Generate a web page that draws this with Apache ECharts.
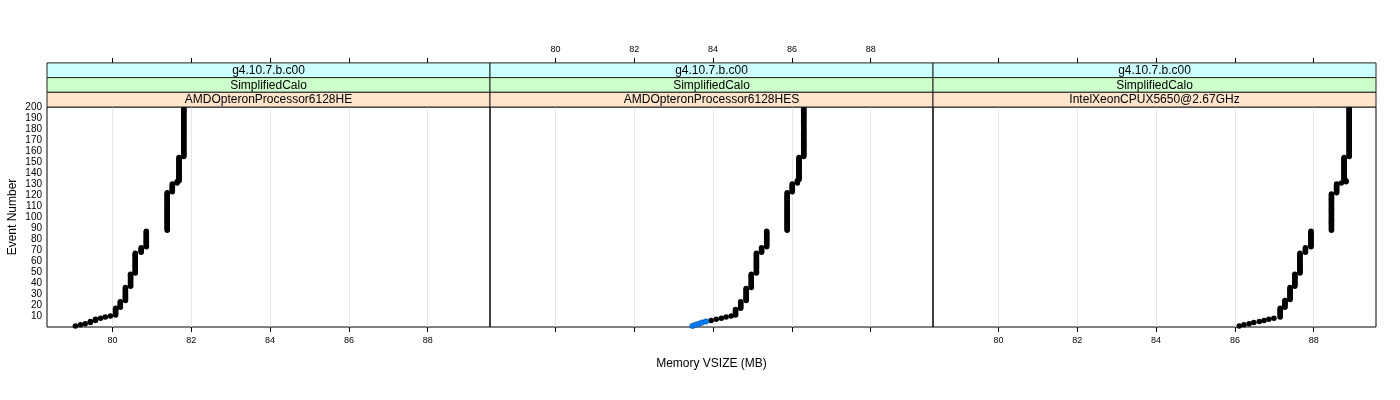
<!DOCTYPE html>
<html><head><meta charset="utf-8">
<script src="https://cdn.jsdelivr.net/npm/echarts@6/dist/echarts.min.js"></script>
<style>html,body{margin:0;padding:0;background:#fff}#c{width:1400px;height:400px}</style>
</head><body><div id="c"></div>
<script>
// ---- strip labels ----
const stripTop = ['g4.10.7.b.c00', 'g4.10.7.b.c00', 'g4.10.7.b.c00'];
const stripMid = ['SimplifiedCalo', 'SimplifiedCalo', 'SimplifiedCalo'];
const stripBot = ['AMDOpteronProcessor6128HE', 'AMDOpteronProcessor6128HES', 'IntelXeonCPUX5650@2.67GHz'];
const xTicks = [80, 82, 84, 86, 88];
const xTitle = 'Memory VSIZE (MB)';
const yTitle = 'Event Number';

// ---- data: memory value held for events from..to ----
const p1Mem  = [79.06,79.19,79.31,79.44,79.57,79.70,79.82,79.95,80.08,80.20,80.33,80.46,80.58,80.73,80.86,81.39,81.52,81.64,81.69,81.81];
const p1From = [1,2,3,4,6,8,9,10,11,18,24,37,49,68,73,88,123,131,133,155];
const p1To   = [1,2,3,5,7,8,9,10,17,23,36,48,67,72,87,122,130,132,154,200];

const p2BlueMem  = [83.48,83.56,83.64,83.72,83.82];
const p2BlueFrom = [1,2,3,4,5];
const p2BlueTo   = [1,2,3,4,5];
const p2Mem  = [83.95,84.08,84.21,84.33,84.46,84.57,84.70,84.84,84.97,85.10,85.23,85.36,85.88,86.01,86.14,86.18,86.30];
const p2From = [6,7,8,9,10,11,17,24,36,49,68,73,88,123,131,134,155];
const p2To   = [6,7,8,9,10,16,23,35,48,67,72,87,122,130,133,154,200];

const p3Mem  = [86.11,86.23,86.36,86.48,86.62,86.74,86.86,86.99,87.15,87.27,87.40,87.52,87.65,87.79,87.93,88.45,88.58,88.70,88.82,88.77,88.90];
const p3From = [1,2,3,4,5,6,7,8,9,18,25,37,49,68,73,88,122,131,132,134,155];
const p3To   = [1,2,3,4,5,6,7,8,17,24,36,48,67,72,87,121,130,131,133,154,200];

function expand(mem, from, to) {
  const pts = [];
  for (let i = 0; i < mem.length; i++) {
    for (let e = from[i]; e <= to[i]; e++) pts.push([mem[i], e]);
  }
  return pts;
}

// ---- layout ----
const FONT = 'Liberation Sans, Arial, sans-serif';
const panelLeft = [47, 490, 933];
const panelW = 443;
const gTop = 107, gH = 220;
const xMin = 78.34, xMax = 89.58;
const stripH = 14.7;
const stripColors = ['#ccffff', '#ccffcc', '#ffe5cc'];
const stripTexts = [stripTop, stripMid, stripBot];

const grids = [], xAxes = [], yAxes = [], graphics = [];
for (let i = 0; i < 3; i++) {
  grids.push({left: panelLeft[i], top: gTop, width: panelW, height: gH,
    show: true, borderColor: '#000', borderWidth: 1, backgroundColor: 'transparent'});
  const base = {gridIndex: i, type: 'value', min: xMin, max: xMax, splitNumber: 5,
    axisLine: {show: false}};
  xAxes.push(Object.assign({}, base, {position: 'bottom',
    axisTick: {show: true, length: 5, customValues: xTicks, lineStyle: {color: '#000'}},
    axisLabel: {show: i !== 1, customValues: xTicks, fontSize: 9, margin: 9, color: '#000', fontFamily: FONT},
    splitLine: {show: true, lineStyle: {color: '#e6e6e6', width: 1}},
    name: i === 1 ? xTitle : '', nameLocation: 'middle', nameGap: 31,
    nameTextStyle: {fontSize: 12, color: '#000', fontFamily: FONT}}));
  xAxes.push(Object.assign({}, base, {position: 'top', offset: 44,
    axisTick: {show: true, length: 5, customValues: xTicks, lineStyle: {color: '#000'}},
    axisLabel: {show: i === 1, customValues: xTicks, fontSize: 9, margin: 9, color: '#000', fontFamily: FONT},
    splitLine: {show: false}}));
  yAxes.push({gridIndex: i, type: 'value', min: 0, max: 200, interval: 10,
    axisLine: {show: false}, axisTick: {show: false}, splitLine: {show: false},
    axisLabel: {show: i === 0, fontSize: 10, margin: 5, color: '#000', fontFamily: FONT,
      formatter: v => (v === 0 ? '' : String(v))},
    name: i === 0 ? yTitle : '', nameLocation: 'middle', nameGap: 28, nameRotate: 90,
    nameTextStyle: {fontSize: 12, color: '#000', fontFamily: FONT}});
  for (let k = 0; k < 3; k++) {
    const y0 = gTop - (3 - k) * stripH;
    graphics.push({type: 'rect', z: 100, shape: {x: panelLeft[i], y: y0, width: panelW, height: stripH},
      style: {fill: stripColors[k], stroke: '#222', lineWidth: 1}});
    graphics.push({type: 'text', z: 101, x: panelLeft[i] + panelW / 2, y: y0 + stripH / 2 + 0.5,
      style: {text: stripTexts[k][i], font: '12px ' + FONT, fill: '#000',
        textAlign: 'center', textVerticalAlign: 'middle', verticalAlign: 'middle'}});
  }
}

const dotStyle = {color: '#000', opacity: 1};
const series = [
  {type: 'scatter', xAxisIndex: 0, yAxisIndex: 0, symbolSize: 5.5, itemStyle: dotStyle, data: expand(p1Mem, p1From, p1To)},
  {type: 'scatter', xAxisIndex: 2, yAxisIndex: 1, symbolSize: 5.5, itemStyle: dotStyle, data: expand(p2Mem, p2From, p2To)},
  {type: 'scatter', xAxisIndex: 2, yAxisIndex: 1, symbolSize: 5.5,
    itemStyle: {color: '#0080ff', borderColor: '#0a4f9a', borderWidth: 0.6, opacity: 1}, data: expand(p2BlueMem, p2BlueFrom, p2BlueTo)},
  {type: 'scatter', xAxisIndex: 4, yAxisIndex: 2, symbolSize: 5.5, itemStyle: dotStyle, data: expand(p3Mem, p3From, p3To)}
];

const chart = echarts.init(document.getElementById('c'), null, {renderer: 'canvas'});
chart.setOption({
  animation: false,
  backgroundColor: '#fff',
  textStyle: {fontFamily: FONT},
  grid: grids, xAxis: xAxes, yAxis: yAxes, series: series, graphic: graphics
});
</script></body></html>
